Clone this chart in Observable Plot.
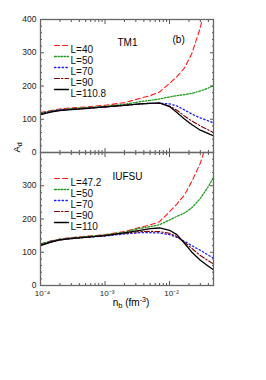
<!DOCTYPE html>
<html><head><meta charset="utf-8">
<script src="https://cdn.jsdelivr.net/npm/d3@7"></script>
<script src="https://cdn.jsdelivr.net/npm/@observablehq/plot@0.6"></script>
<style>
body{margin:0;background:#fff;}
#chart svg{font-family:"Liberation Sans",Arial,sans-serif;}
</style></head><body><div id="chart"></div>
<script>
const panels = ["TM1", "IUFSU"];
const nb = [1e-4, 1.5e-4, 2e-4, 3e-4, 5e-4, 1e-3, 2e-3, 3.5e-3, 5e-3, 7e-3, 0.01, 0.013, 0.017, 0.022, 0.03, 0.04, 0.048];
// TM1 panel
const tm1_L40    = [120,127,131,134,137,142,150,163,171,182,208,228,254,296,375,490,null];
const tm1_L50    = [118,125,129,132,135,139,145,153,157,161,167,171,174,178,185,194,201];
const tm1_L70    = [117,124,128,130,133,137,142,146,148,148,146,140,128,116,104,95,89];
const tm1_L90    = [116,123,127,130,133,137,142,146,148,148,140,127,110,95,80,68,60];
const tm1_L110_8 = [114,122,126,129,132,137,142,146,148,149,138,120,101,84,67,57,50];
// IUFSU panel
const iu_L47_2 = [125,135,140,144,148,153,162,175,182,192,222,245,272,312,368,445,null];
const iu_L50   = [125,134,139,143,147,152,160,172,177,183,197,208,218,233,262,298,325];
const iu_L70   = [123,133,138,142,145,149,155,159,159,158,153,145,133,120,106,91,82];
const iu_L90   = [122,132,137,141,145,150,157,162,163,162,157,147,130,112,90,74,65];
const iu_L110  = [120,131,137,141,145,150,158,166,171,173,166,153,127,101,76,58,47];
// legend labels
const legendTM1   = ["L=40", "L=50", "L=70", "L=90", "L=110.8"];
const legendIUFSU = ["L=47.2", "L=50", "L=70", "L=90", "L=110"];
// ticks
const xMajor = [1e-4, 1e-3, 1e-2];
const xMinor = [2e-4,3e-4,4e-4,5e-4,6e-4,7e-4,8e-4,9e-4,2e-3,3e-3,4e-3,5e-3,6e-3,7e-3,8e-3,9e-3,2e-2,3e-2,4e-2];
const yMajor = [0, 100, 200, 300, 400];
const yMinor = [20,40,60,80,120,140,160,180,220,240,260,280,320,340,360,380];
const yLabels = [0, 100, 200, 300];

const values = {TM1: [tm1_L40, tm1_L50, tm1_L70, tm1_L90, tm1_L110_8],
                IUFSU: [iu_L47_2, iu_L50, iu_L70, iu_L90, iu_L110]};
const legends = {TM1: legendTM1, IUFSU: legendIUFSU};
const styles = [
  {stroke: "#ff1a1a", strokeDasharray: "5,3", strokeWidth: 1.1},
  {stroke: "#1f9a1f", strokeDasharray: "2,1.6,1.2,1.6", strokeWidth: 1.3},
  {stroke: "#1a1aff", strokeDasharray: "1.4,2.4", strokeWidth: 1.3},
  {stroke: "#800000", strokeDasharray: "5,2,1.5,2", strokeWidth: 1.1},
  {stroke: "#000000", strokeWidth: 1.3}
];

const rows = panels.flatMap(p => values[p].flatMap((arr, s) => arr.map((A, i) => ({panel: p, s, nb: nb[i], A}))));
const legendRows = panels.flatMap(p => legends[p].map((label, s) => ({panel: p, s, label})));

const tk = {stroke: "#555", strokeWidth: 1, fill: "none", label: null, facetAnchor: null};
const marks = [];
marks.push(
  Plot.axisY({...tk, anchor: "left", ticks: yMajor, tickSize: -4}),
  Plot.axisY({...tk, anchor: "left", ticks: yMinor, tickSize: -2}),
  Plot.axisY({...tk, anchor: "right", ticks: yMajor, tickSize: -4}),
  Plot.axisY({...tk, anchor: "right", ticks: yMinor, tickSize: -2}),
  Plot.axisX({...tk, anchor: "bottom", ticks: xMajor, tickSize: -4}),
  Plot.axisX({...tk, anchor: "bottom", ticks: xMinor, tickSize: -2}),
  Plot.axisX({...tk, anchor: "top", ticks: xMajor, tickSize: -4}),
  Plot.axisX({...tk, anchor: "top", ticks: xMinor, tickSize: -2})
);
marks.push(
  Plot.axisY({anchor: "left", ticks: yLabels, tickSize: 0, tickPadding: 4, label: null, fontSize: 8.5, fill: "#222", facetAnchor: null}),
  Plot.axisY({anchor: "left", ticks: [400], tickSize: 0, tickPadding: 4, label: null, fontSize: 8.5, fill: "#222", facetAnchor: "top"}),
  Plot.axisX({anchor: "bottom", ticks: xMajor, tickSize: 0, tickPadding: 5, dx: 2, label: null, fontSize: 8, fill: "#222",
    facetAnchor: "bottom", tickFormat: d => "10" + ({"-4": "⁻⁴", "-3": "⁻³", "-2": "⁻²"})[String(Math.round(Math.log10(d)))]})
);
styles.forEach((st, s) => {
  marks.push(Plot.line(rows.filter(r => r.s === s), {x: "nb", y: "A", fy: "panel", clip: true, ...st}));
});
marks.push(Plot.frame({stroke: "#666", strokeWidth: 1.3}));
styles.forEach((st, s) => {
  const d = legendRows.filter(r => r.s === s);
  marks.push(
    Plot.vector(d, {fy: "panel", frameAnchor: "top-left", dx: 14, dy: 26 + 11 * s, length: 14, rotate: 90, anchor: "start",
      shape: {draw(ctx, l) { ctx.moveTo(0, 0); ctx.lineTo(0, -l); }}, ...st}),
    Plot.text(d, {fy: "panel", frameAnchor: "top-left", dx: 30, dy: 26 + 11 * s, text: "label", textAnchor: "start", fontSize: 10, fill: "#111"})
  );
});
marks.push(
  Plot.text([{panel: "TM1", t: "TM1"}], {fy: "panel", frameAnchor: "top-left", dx: 77, dy: 19, text: "t", textAnchor: "start", fontSize: 10}),
  Plot.text([{panel: "TM1", t: "(b)"}], {fy: "panel", frameAnchor: "top-left", dx: 132, dy: 16, text: "t", textAnchor: "start", fontSize: 10}),
  Plot.text([{panel: "IUFSU", t: "IUFSU"}], {fy: "panel", frameAnchor: "top-left", dx: 72, dy: 20, text: "t", textAnchor: "start", fontSize: 10}),
  Plot.text([{panel: "TM1", t: "Ad"}], {fy: "panel", frameAnchor: "bottom-left", dx: -21, dy: 0, rotate: -90, text: "t", fontSize: 9.5, className: "ylab"}),
  Plot.text([{panel: "IUFSU", t: "nb (fm-3)"}], {fy: "panel", frameAnchor: "bottom", dx: 4, dy: 20, text: "t", fontSize: 10, className: "xlab"})
);

const chart = Plot.plot({
  width: 266, height: 380,
  marginLeft: 40, marginRight: 53, marginTop: 19, marginBottom: 95,
  style: {fontFamily: "'Liberation Sans', Arial, sans-serif", background: "#fff", overflow: "visible"},
  x: {type: "log", domain: [1e-4, 0.048]},
  y: {domain: [0, 400]},
  fy: {domain: panels, padding: 0, axis: null},
  marks
});
document.getElementById("chart").appendChild(chart);

d3.select(chart).selectAll(".xlab text").each(function() {
  const t = d3.select(this); t.text(null);
  t.append("tspan").text("n");
  t.append("tspan").attr("dy", 2.5).attr("font-size", 7.5).text("b");
  t.append("tspan").attr("dy", -2.5).text(" (fm");
  t.append("tspan").attr("dy", -4).attr("font-size", 7).text("-3");
  t.append("tspan").attr("dy", 4).text(")");
});
d3.select(chart).selectAll(".ylab text").each(function() {
  const t = d3.select(this); t.text(null);
  t.append("tspan").text("A");
  t.append("tspan").attr("dy", 2.5).attr("font-size", 7).text("d");
});
</script></body></html>
